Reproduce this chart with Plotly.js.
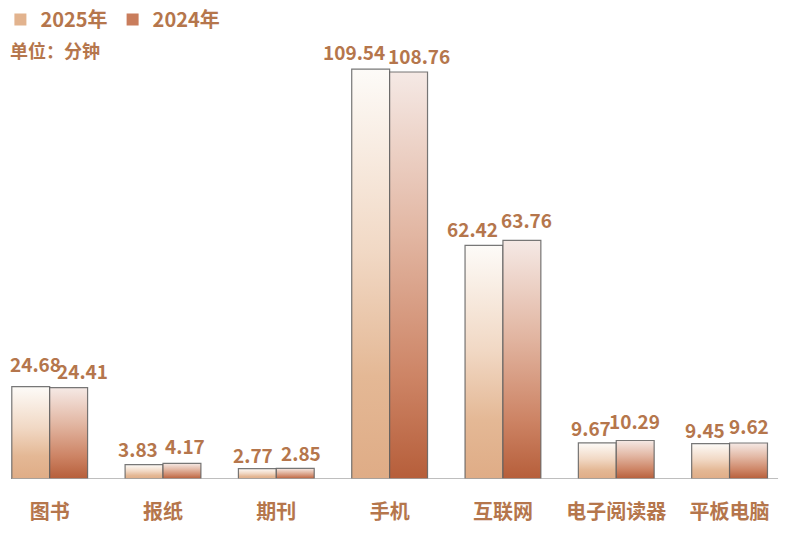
<!DOCTYPE html>
<html>
<head>
<meta charset="utf-8">
<script src="https://cdn.plot.ly/plotly-3.0.1.min.js"></script>
<style>
html,body{margin:0;padding:0;background:#fff;}
#chart{width:800px;height:536px;}
</style>
</head>
<body>
<div id="chart"></div>
<script>
// ---- data ----
const categories = ["图书", "报纸", "期刊", "手机", "互联网", "电子阅读器", "平板电脑"];
const values2025 = [24.68, 3.83, 2.77, 109.54, 62.42, 9.67, 9.45];
const values2024 = [24.41, 4.17, 2.85, 108.76, 63.76, 10.29, 9.62];
const seriesNames = ["2025年", "2024年"];
const unitLabel = "单位：分钟";

// ---- label offsets (px, styling only) ----
const dx2025 = [5, -6, -4, -17, -11, -6, -6];
const dx2024 = [14, 3, 6, 10, 5, -1, 0];
const gap2025 = [14, 7, 5, 8, 7, 6, 5];
const gap2024 = [8, 8, 6, 7, 11, 10, 8];

const labelColor = "#b5764c";
const fontFam = "Noto Sans CJK SC, Noto Sans, sans-serif";
const barHalf = 19;

const traces = [
  {type: "bar", name: seriesNames[0], x: categories, y: values2025,
   marker: {color: "#e2b38e", line: {color: "rgba(95,95,95,0.85)", width: 1.2}},
   hoverinfo: "skip"},
  {type: "bar", name: seriesNames[1], x: categories, y: values2024,
   marker: {color: "#c97d5c", line: {color: "rgba(95,95,95,0.85)", width: 1.2}},
   hoverinfo: "skip"}
];

const annotations = [];
categories.forEach((c, i) => {
  annotations.push({x: c, y: values2025[i], xref: "x", yref: "y", text: values2025[i].toFixed(2),
    showarrow: false, yanchor: "bottom", xanchor: "center",
    xshift: -barHalf + dx2025[i], yshift: gap2025[i] - 6,
    font: {family: fontFam, size: 19, color: labelColor, weight: 700}});
  annotations.push({x: c, y: values2024[i], xref: "x", yref: "y", text: values2024[i].toFixed(2),
    showarrow: false, yanchor: "bottom", xanchor: "center",
    xshift: barHalf + dx2024[i], yshift: gap2024[i] - 6,
    font: {family: fontFam, size: 19, color: labelColor, weight: 700}});
});
annotations.push({x: 0.007, y: 0.896, xref: "paper", yref: "paper", text: unitLabel, showarrow: false,
  xanchor: "left", yanchor: "middle",
  font: {family: fontFam, size: 18, color: labelColor, weight: 700}});

const layout = {
  width: 800, height: 536,
  margin: {l: 0, r: 0, t: 0, b: 57},
  paper_bgcolor: "#ffffff", plot_bgcolor: "#ffffff",
  barmode: "group", bargap: 0.331, bargroupgap: 0,
  showlegend: true,
  legend: {orientation: "h", x: -0.002, y: 1.0, xanchor: "left", yanchor: "top",
    font: {family: fontFam, size: 20, color: labelColor, weight: 700},
    itemwidth: 30, tracegroupgap: 0, bgcolor: "rgba(0,0,0,0)"},
  xaxis: {type: "category", range: [-0.4208, 6.6215], showgrid: false, zeroline: false,
    showline: false, ticks: "", ticklabelstandoff: 19, automargin: false,
    tickfont: {family: fontFam, size: 20, color: labelColor, weight: 700}},
  yaxis: {range: [0, 128], visible: false, showgrid: false, zeroline: false, fixedrange: true},
  shapes: [{type: "line", xref: "paper", yref: "y", x0: 0.0125, x1: 0.9725, y0: 0, y1: 0,
    line: {color: "#a8a8a8", width: 1.5}}],
  annotations: annotations
};

Plotly.newPlot("chart", traces, layout, {displayModeBar: false, staticPlot: true}).then(gd => {
  const svg = gd.querySelector(".main-svg");
  let defs = svg.querySelector("defs");
  const ns = "http://www.w3.org/2000/svg";
  const grads = [
    {id: "g2025", stops: [["0%", "#fdfbf8"], ["45%", "#f1d8c4"], ["75%", "#e4b895"], ["100%", "#dfac86"]]},
    {id: "g2024", stops: [["0%", "#f5e9e5"], ["40%", "#e2b6a2"], ["75%", "#cd8465"], ["100%", "#b65e3a"]]}
  ];
  grads.forEach(g => {
    const lg = document.createElementNS(ns, "linearGradient");
    lg.setAttribute("id", g.id);
    lg.setAttribute("x1", "0"); lg.setAttribute("y1", "0");
    lg.setAttribute("x2", "0"); lg.setAttribute("y2", "1");
    g.stops.forEach(s => {
      const st = document.createElementNS(ns, "stop");
      st.setAttribute("offset", s[0]);
      st.setAttribute("stop-color", s[1]);
      lg.appendChild(st);
    });
    defs.appendChild(lg);
  });
  const barTraces = gd.querySelectorAll(".barlayer .trace");
  barTraces.forEach((t, i) => {
    t.querySelectorAll(".point path").forEach(p => {
      p.style.fill = "url(#" + grads[i].id + ")";
    });
  });
  gd.querySelectorAll(".legend .legendpoints path").forEach(p => {
    p.style.strokeWidth = "0px";
  });
});
</script>
</body>
</html>
